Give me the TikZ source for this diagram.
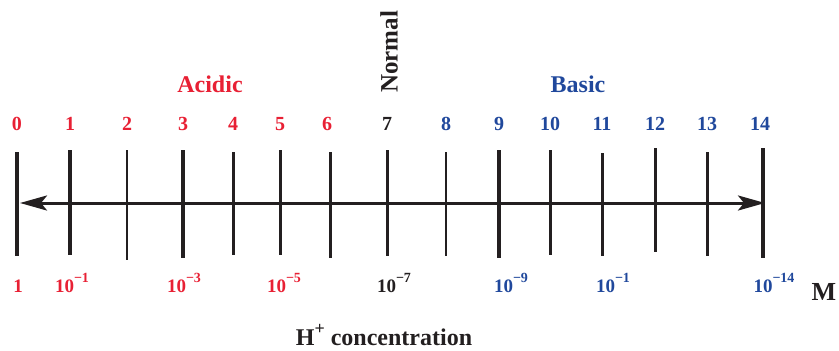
\documentclass[tikz,border=0pt]{standalone}
\usepackage{fontspec}
\setmainfont{Liberation Serif}
\usetikzlibrary{arrows.meta}
\definecolor{acid}{RGB}{232,32,52}
\definecolor{base}{RGB}{32,72,156}
\definecolor{ink}{RGB}{35,31,32}
\newcommand{\psup}[1]{\raisebox{0.5em}{\fontsize{14}{14}\selectfont #1}}
\tikzset{
  lbl/.style={font=\bfseries\fontsize{20}{24}\selectfont, inner sep=0pt},
  conc/.style={font=\bfseries\fontsize{19}{22}\selectfont, inner sep=0pt},
  head/.style={font=\bfseries\fontsize{24}{28}\selectfont, inner sep=0pt},
  tick/.style={draw=ink},
  axis/.style={draw=ink, line width=3pt, {Stealth[length=27pt,width=15pt,inset=6pt]}-{Stealth[length=27pt,width=15pt,inset=6pt]}}
}
\begin{document}
\begin{tikzpicture}[x=1pt,y=-1pt]
\useasboundingbox (0,0) rectangle (839,351);
% tick marks
\foreach \n/\x/\t/\b/\w in {0/17/152/256/3.2,1/70/150/255/3.2,2/127/150/260/2.2,3/183/150/258/4.6,4/233/152/255/3,5/280/150/255/3,6/330/152/258/3,7/387/150/256/3,8/446/152/256/2.8,9/499/150/258/4,10/550/150/255/3,11/602/153/256/3,12/655/148/252/3,13/707/152/256/3,14/763/148/258/4.6}{
  \coordinate (t\n) at (\x,\t);
  \coordinate (b\n) at (\x,\b);
  \draw[tick, line width=\w pt] (t\n) -- (b\n);
}
\coordinate (L) at (20,203);
\coordinate (R) at (765,203);
\draw[axis] (L) -- (R);
% pH numbers
\foreach \n/\x/\c in {0/17/acid,1/70/acid,2/127/acid,3/183/acid,4/233/acid,5/280/acid,6/327/acid,7/387/ink,8/446/base,9/499/base,10/550/base,11/602/base,12/655/base,13/707/base,14/760/base}{
  \node[lbl, text=\c] (n\n) at (\x,124) {\n};
}
\node[head, text=acid] (acidic) at (210,84) {Acidic};
\node[head, text=base] (basic) at (578,84) {Basic};
\node[head, text=ink, rotate=90, font=\bfseries\fontsize{25}{28}\selectfont] (normal) at (389,52) {Normal};
% concentrations
\node[conc, text=acid] (c0) at (18,286) {1};
\node[conc, text=acid] (c1) at (72,283) {10\psup{−1}};
\node[conc, text=acid] (c3) at (184,283) {10\psup{−3}};
\node[conc, text=acid] (c5) at (284,283) {10\psup{−5}};
\node[conc, text=ink] (c7) at (394,283) {10\psup{−7}};
\node[conc, text=base] (c9) at (511,283) {10\psup{−9}};
\node[conc, text=base] (c11) at (613,283) {10\psup{−1}};
\node[conc, text=base] (c14) at (774,283) {10\psup{−14}};
\node[head, text=ink, font=\bfseries\fontsize{26}{28}\selectfont] (M) at (824,292) {M};
\node[head, text=ink] (hconc) at (384,335) {H\raisebox{0.45em}{\fontsize{18}{18}\selectfont +} concentration};
\end{tikzpicture}
\end{document}
